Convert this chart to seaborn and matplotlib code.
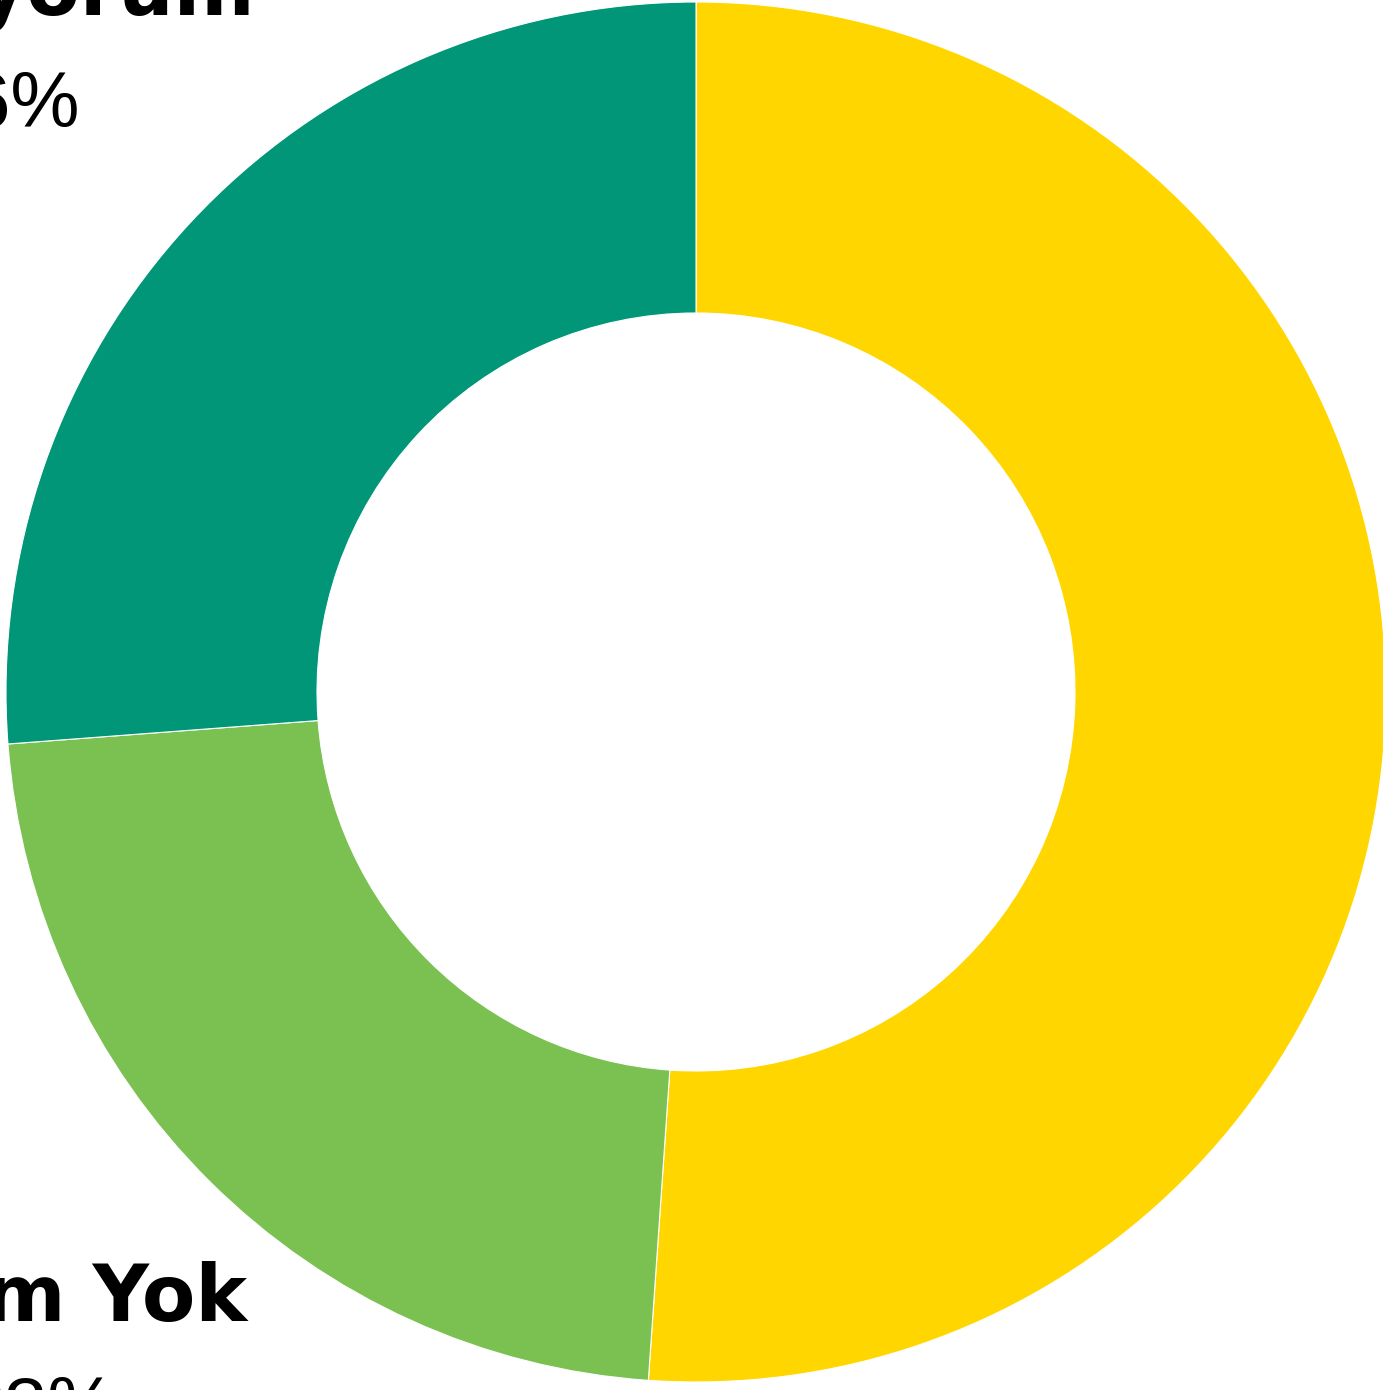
import matplotlib
matplotlib.use("Agg")
import matplotlib.pyplot as plt
import seaborn as sns

categories = ["Katılıyorum", "Fikrim Yok", "Katılmıyorum"]
values = [51.1, 22.7, 26.2]
labels_pct = ["51%", "23%", "26%"]
colors = ["#FFD600", "#7BC152", "#009677"]

sns.set_theme(style="white")
plt.rcParams["font.family"] = ["Liberation Sans", "DejaVu Sans"]

W, H = 1383, 1390
fig = plt.figure(figsize=(W / 100, H / 100), dpi=100)
ax = fig.add_axes([0, 0, 1, 1])
ax.axis("off")

cx, cy, R = 696, 692, 690
ax.pie(values, colors=colors, startangle=90, counterclock=False,
       radius=1.0, wedgeprops=dict(width=1 - 379 / 690, edgecolor="white", linewidth=0.8))
ax.set_xlim(-cx / R, (W - cx) / R)
ax.set_ylim((cy - H) / R, cy / R)
ax.set_aspect("auto")

def px(x, y):
    return (x - cx) / R, (cy - y) / R

fs = 56
bold = dict(fontsize=fs, fontweight="bold", color="black", clip_on=False, family=["DejaVu Sans"])
reg = dict(fontsize=fs, color="black", clip_on=False)
# Katılmıyorum label (upper-left, clipped by canvas)
x, y = px(255, 15)
ax.text(x, y, categories[2], ha="right", va="baseline", **bold)
x, y = px(80, 127)
ax.text(x, y, labels_pct[2], ha="right", va="baseline", **reg)
# Fikrim Yok label (lower-left)
x, y = px(247, 1321)
ax.text(x, y, categories[1], ha="right", va="baseline", **bold)
x, y = px(117, 1432)
ax.text(x, y, labels_pct[1], ha="right", va="baseline", **reg)
# Katılıyorum label (right, off canvas)
x, y = px(1500, 640)
ax.text(x, y, categories[0], ha="left", va="baseline", **bold)
x, y = px(1500, 752)
ax.text(x, y, labels_pct[0], ha="left", va="baseline", **reg)

fig.savefig("out.png", dpi=100)
